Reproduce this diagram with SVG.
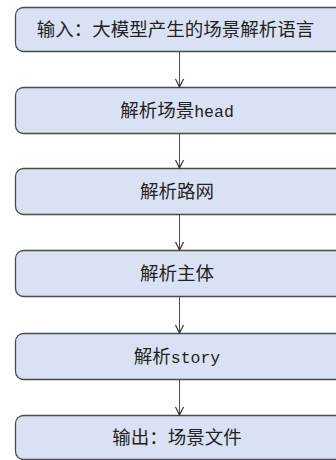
<svg xmlns="http://www.w3.org/2000/svg" width="336" height="460" viewBox="0 0 336 460">
<style>
.box{fill:#D9E2F3;stroke:#4a4a4a;stroke-width:1.3}
.t{font-family:"Noto Sans CJK SC",sans-serif;font-size:18.5px;fill:#222;text-anchor:middle}
.m{font-family:"Liberation Mono","Noto Sans CJK SC",monospace;font-size:16.5px}
.c{stroke:#4a4a4a;stroke-width:1;fill:none}
</style>
<defs>
<marker id="ah" viewBox="0 0 10 10" refX="9" refY="5" markerWidth="10" markerHeight="10" markerUnits="userSpaceOnUse" orient="auto">
<path d="M1,1 L9,5 L1,9" fill="none" stroke="#333" stroke-width="1.2"/>
</marker>
</defs>
<g id="n1"><rect class="box" x="15.5" y="7.5" width="328" height="44" rx="8"/><text class="t" x="175.5" y="36">输入：大模型产生的场景解析语言</text></g>
<g id="n2"><rect class="box" x="15.5" y="87.5" width="328" height="46" rx="8"/><text class="t" x="177" y="117">解析场景<tspan class="m">head</tspan></text></g>
<g id="n3"><rect class="box" x="15.5" y="168.5" width="328" height="46" rx="8"/><text class="t" x="177" y="198">解析路网</text></g>
<g id="n4"><rect class="box" x="15.5" y="250.5" width="328" height="46" rx="8"/><text class="t" x="177" y="280">解析主体</text></g>
<g id="n5"><rect class="box" x="15.5" y="333.5" width="328" height="46" rx="8"/><text class="t" x="177" y="363">解析<tspan class="m">story</tspan></text></g>
<g id="n6"><rect class="box" x="15.5" y="415.5" width="328" height="44" rx="8"/><text class="t" x="177" y="444">输出：场景文件</text></g>
<g id="connectors">
<line class="c" x1="179.5" y1="51.5" x2="179.5" y2="87" marker-end="url(#ah)"/>
<line class="c" x1="179.5" y1="133.5" x2="179.5" y2="168" marker-end="url(#ah)"/>
<line class="c" x1="179.5" y1="214.5" x2="179.5" y2="250" marker-end="url(#ah)"/>
<line class="c" x1="179.5" y1="296.5" x2="179.5" y2="333" marker-end="url(#ah)"/>
<line class="c" x1="179.5" y1="379.5" x2="179.5" y2="415" marker-end="url(#ah)"/>
</g>
</svg>
